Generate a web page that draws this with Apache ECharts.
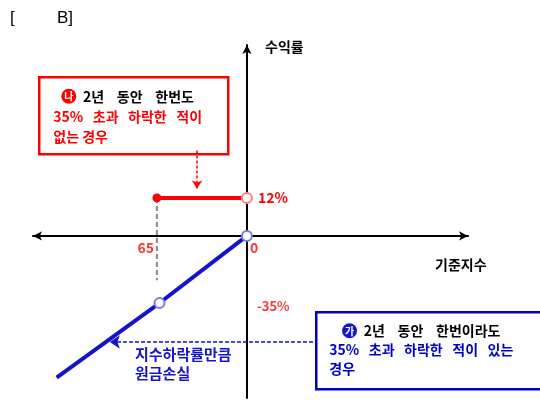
<!DOCTYPE html>
<html>
<head>
<meta charset="utf-8">
<script src="https://cdn.jsdelivr.net/npm/echarts@6/dist/echarts.min.js"></script>
<style>html,body{margin:0;background:#fff}#c{width:540px;height:400px}</style>
</head>
<body>
<div id="c"></div>
<script>
// values (x: index change, y: return)
var redPath = [[-35, 12], [0, 12]];
var bluePath = [[-74, -44.8], [-34, -21.2], [0, 0]];
var guideX = [[-35, 12], [-35, -14]];
var lossGuide = [[25.7, -33.5], [-53.3, -33.5]];
var noteArrow = [[-19.4, 27], [-19.4, 15]];
var tickPos = [[-35, 0], [0, 0]];
var tickNames = ['65', '0'];
var capText = '12%';
var lossPos = [0, -21.5];
var lossText = '-35%';

var font = '"Noto Sans CJK KR", "Noto Sans", sans-serif';
var RED = '#ff0000';
var BLUE = '#1414c8';

var chart = echarts.init(document.getElementById('c'));

var redData = redPath.map(function (p, i) {
    if (i === 0) return { value: p, symbol: 'circle', symbolSize: 9, itemStyle: { color: RED } };
    return {
        value: p, symbol: 'circle', symbolSize: 10,
        itemStyle: { color: '#fff', borderColor: '#ff8080', borderWidth: 2 },
        label: { show: true, position: 'right', distance: 5, formatter: capText,
            color: RED, fontFamily: font, fontWeight: 'bold', fontSize: 14 }
    };
});

var blueData = bluePath.map(function (p, i) {
    if (i === 0) return { value: p, symbol: 'none' };
    return { value: p, symbol: 'circle', symbolSize: 10,
        itemStyle: { color: '#fff', borderColor: '#7a7ae0', borderWidth: 2 } };
});

var labelData = tickPos.map(function (p, i) {
    return {
        value: p,
        label: { show: true, position: i === 0 ? 'left' : 'right', distance: 3, offset: [0, 12],
            formatter: tickNames[i], color: RED, fontFamily: font, fontWeight: 'bold', fontSize: 14 }
    };
});
labelData.push({
    value: lossPos,
    label: { show: true, position: 'right', distance: 10, offset: [0, 2], formatter: lossText,
        color: RED, fontFamily: font, fontWeight: 'bold', fontSize: 13 }
});

var option = {
    animation: false,
    grid: { left: 33, right: 72, top: 45, bottom: 2 },
    xAxis: {
        type: 'value', min: -83.2, max: 86,
        axisLine: { onZero: true, symbol: ['arrow', 'arrow'], symbolSize: [7, 9], lineStyle: { color: '#000', width: 2 } },
        axisTick: { show: false }, axisLabel: { show: false }, splitLine: { show: false }
    },
    yAxis: {
        type: 'value', min: -51.2, max: 60.3,
        axisLine: { onZero: true, symbol: ['none', 'arrow'], symbolSize: [7, 9], lineStyle: { color: '#000', width: 2 } },
        axisTick: { show: false }, axisLabel: { show: false }, splitLine: { show: false }
    },
    series: [
        {
            type: 'line', data: guideX, symbol: 'none',
            lineStyle: { color: '#888', width: 2, type: [5, 3] }
        },
        {
            type: 'line', data: redData, z: 3,
            lineStyle: { color: RED, width: 4 },
            markLine: {
                silent: true, symbol: ['none', 'arrow'], symbolSize: 8,
                label: { show: false },
                lineStyle: { color: RED, width: 1.5, type: [3, 2] },
                data: [[{ coord: noteArrow[0] }, { coord: noteArrow[1] }]]
            }
        },
        {
            type: 'line', data: blueData, z: 3,
            lineStyle: { color: BLUE, width: 4 },
            markLine: {
                silent: true, symbol: ['none', 'arrow'], symbolSize: 10,
                label: { show: false },
                lineStyle: { color: BLUE, width: 1.5, type: [4, 2] },
                data: [[{ coord: lossGuide[0] }, { coord: lossGuide[1] }]]
            }
        },
        {
            type: 'scatter', data: labelData, symbolSize: 0, z: 4
        }
    ],
    graphic: [
        { type: 'text', left: 10, top: 10, style: { text: '[', fontSize: 17, fontFamily: 'Liberation Sans', fill: '#000' } },
        { type: 'text', left: 57, top: 10, style: { text: 'B]', fontSize: 17, fontFamily: 'Liberation Sans', fill: '#000' } },
        { type: 'text', left: 265, top: 40, style: { text: '수익률', fontSize: 14, fontWeight: 'bold', fontFamily: font, fill: '#000' } },
        { type: 'text', left: 435, top: 258, style: { text: '기준지수', fontSize: 14, fontWeight: 'bold', fontFamily: font, fill: '#000' } },
        { type: 'text', left: 135, top: 345, style: { text: '지수하락률만큼\n원금손실', align: 'center', x: 52, lineHeight: 19,
            fontSize: 15, fontWeight: 'bold', fontFamily: font, fill: BLUE } },
        {
            type: 'group', left: 38, top: 76,
            children: [
                { type: 'rect', shape: { x: 0, y: 0, width: 189, height: 77 }, style: { fill: '#fff', stroke: RED, lineWidth: 2.5 } },
                { type: 'text', x: 14, y: 9, style: {
                    text: '{c|나}  {k|2년    동안    한번도}\n{r|35%   초과   하락한   적이}\n{r|없는 경우}',
                    rich: {
                        c: { backgroundColor: RED, fill: '#fff', borderRadius: 8, width: 15, height: 15, align: 'center', fontSize: 10, fontFamily: font, fontWeight: 'bold', lineHeight: 20 },
                        k: { fill: '#000', fontSize: 14, fontFamily: font, fontWeight: 'bold', lineHeight: 20 },
                        r: { fill: RED, fontSize: 14, fontFamily: font, fontWeight: 'bold', lineHeight: 20 }
                    }
                } }
            ]
        },
        {
            type: 'group', left: 315, top: 311,
            children: [
                { type: 'rect', shape: { x: 0, y: 0, width: 240, height: 77 }, style: { fill: '#fff', stroke: '#0000cc', lineWidth: 2.5 } },
                { type: 'text', x: 13, y: 9, style: {
                    text: '{c|가}  {k|2년    동안    한번이라도}\n{b|35%   초과   하락한   적이   있는}\n{b|경우}',
                    rich: {
                        c: { backgroundColor: BLUE, fill: '#fff', borderRadius: 8, width: 15, height: 15, align: 'center', fontSize: 10, fontFamily: font, fontWeight: 'bold', lineHeight: 19 },
                        k: { fill: '#000', fontSize: 14, fontFamily: font, fontWeight: 'bold', lineHeight: 19 },
                        b: { fill: '#0000cc', fontSize: 14, fontFamily: font, fontWeight: 'bold', lineHeight: 19 }
                    }
                } }
            ]
        }
    ]
};

chart.setOption(option);
</script>
</body>
</html>
